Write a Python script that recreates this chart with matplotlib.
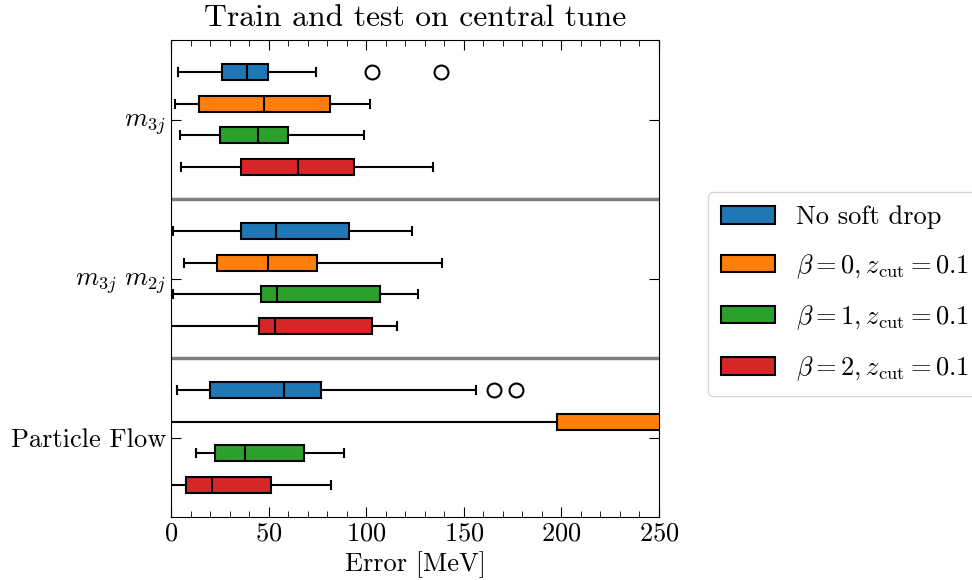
import matplotlib
matplotlib.use("Agg")
import matplotlib.pyplot as plt
from matplotlib.patches import Patch

plt.rcParams["font.family"] = "cmr10"
plt.rcParams["mathtext.fontset"] = "cm"
plt.rcParams["axes.formatter.use_mathtext"] = True
plt.rcParams["font.size"] = 19

# ------------------------------------------------------------------ #
# Data, one entry per group:
# m3j, m3j m2j, Particle Flow
# ------------------------------------------------------------------ #
groups = [r"$m_{3j}$", r"$m_{3j}\ m_{2j}$", "Particle Flow"]
series = ["No soft drop",
          r"$\beta = 0, z_{\rm cut} = 0.1$",
          r"$\beta = 1, z_{\rm cut} = 0.1$",
          r"$\beta = 2, z_{\rm cut} = 0.1$"]
colors = ["#1f77b4", "#ff7f0e", "#2ca02c", "#d62728"]

# per series: values for [m3j, m3j m2j, Particle Flow]
whislo = [[3.8, 1.2, 2.9],
          [2.0, 6.8, -60.0],
          [4.4, 0.9, 12.6],
          [5.3, 0.2, -5.0]]
q1     = [[26.3, 35.7, 20.0],
          [14.5, 23.4, 197.9],
          [25.1, 45.9, 22.4],
          [36.0, 45.3, 7.7]]
med    = [[38.9, 53.8, 57.7],
          [47.5, 49.7, 290.0],
          [44.4, 54.5, 37.9],
          [65.2, 53.1, 20.8]]
q3     = [[49.5, 91.2, 77.0],
          [81.3, 74.8, 360.0],
          [59.8, 107.2, 68.3],
          [93.9, 103.1, 51.2]]
whishi = [[74.1, 123.3, 156.2],
          [102.1, 138.7, 480.0],
          [98.7, 126.4, 88.6],
          [134.4, 115.6, 81.8]]
fliers = [[[102.8, 138.3], [], [165.5, 176.7]],
          [[], [], []],
          [[], [], []],
          [[], [], []]]

offsets = [-0.3, -0.1, 0.1, 0.3]

fig = plt.figure(figsize=(9.72, 5.8), dpi=100)
ax = fig.add_axes([0.176, 0.1086, 0.502, 0.8224])

for s in range(len(series)):
    stats = []
    for g in range(len(groups)):
        stats.append(dict(whislo=whislo[s][g], q1=q1[s][g], med=med[s][g],
                          q3=q3[s][g], whishi=whishi[s][g], fliers=fliers[s][g]))
    pos = [g + offsets[s] for g in range(len(groups))]
    ax.bxp(stats, positions=pos, widths=0.1, vert=False, patch_artist=True,
           manage_ticks=False,
           boxprops=dict(facecolor=colors[s], edgecolor="black", linewidth=1.5),
           medianprops=dict(color="black", linewidth=1.5),
           whiskerprops=dict(color="black", linewidth=1.5),
           capprops=dict(color="black", linewidth=1.5),
           flierprops=dict(marker="o", markerfacecolor="none",
                           markeredgecolor="black", markersize=10,
                           markeredgewidth=1.5))

for y in [0.5, 1.5]:
    ax.axhline(y, color="gray", linewidth=2.5)

ax.set_xlim(0, 250)
ax.set_ylim(2.5, -0.5)
ax.set_yticks(range(len(groups)))
ax.set_yticklabels(groups)
ax.set_xticks([0, 50, 100, 150, 200, 250])
ax.set_xticks(range(0, 251, 10), minor=True)
ax.tick_params(which="both", direction="in", top=True, right=True)
ax.tick_params(which="major", length=7)
ax.tick_params(which="minor", length=4)
ax.set_xlabel("Error [MeV]", labelpad=4)
ax.set_title("Train and test on central tune", pad=10)

handles = [Patch(facecolor=c, edgecolor="black", linewidth=1.5) for c in colors]
ax.legend(handles, series, loc="center left", bbox_to_anchor=(1.1, 0.467),
          handlelength=2.05, handleheight=0.65, labelspacing=0.85,
          borderpad=0.5, handletextpad=0.8, borderaxespad=0)

fig.savefig("out.png", dpi=100)
